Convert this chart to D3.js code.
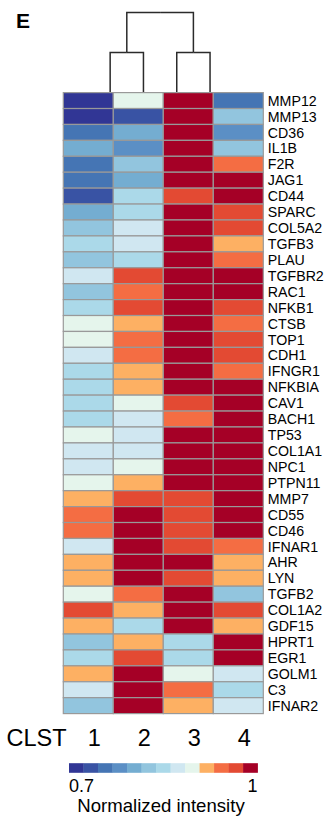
<!DOCTYPE html>
<html>
<head>
<meta charset="utf-8">
<script src="https://cdn.jsdelivr.net/npm/d3@7"></script>
<style>
  html, body { margin: 0; padding: 0; background: #fff; }
  svg { display: block; font-family: "Liberation Sans", Arial, Helvetica, sans-serif; }
</style>
</head>
<body>
<svg id="chart" width="331" height="819"></svg>
<script>
// Genes (rows, top to bottom) and clusters (columns)
const genes = ["MMP12","MMP13","CD36","IL1B","F2R","JAG1","CD44","SPARC","COL5A2","TGFB3",
  "PLAU","TGFBR2","RAC1","NFKB1","CTSB","TOP1","CDH1","IFNGR1","NFKBIA","CAV1",
  "BACH1","TP53","COL1A1","NPC1","PTPN11","MMP7","CD55","CD46","IFNAR1","AHR",
  "LYN","TGFB2","COL1A2","GDF15","HPRT1","EGR1","GOLM1","C3","IFNAR2"];
const clusters = ["1","2","3","4"];

// Normalized intensity per cluster, one value per gene
const clst1 = [0.71,0.71,0.76,0.80,0.76,0.76,0.74,0.80,0.83,0.85,0.83,0.87,0.83,0.85,0.90,0.90,0.87,0.85,0.85,0.85,
  0.85,0.90,0.87,0.87,0.90,0.92,0.94,0.94,0.87,0.92,0.92,0.90,0.97,0.92,0.83,0.85,0.92,0.87,0.83];
const clst2 = [0.90,0.74,0.80,0.78,0.83,0.80,0.85,0.85,0.87,0.87,0.85,0.97,0.94,0.97,0.92,0.94,0.94,0.92,0.92,0.90,
  0.87,0.87,0.87,0.90,0.92,0.97,0.99,0.99,0.99,0.99,0.99,0.94,0.92,0.85,0.92,0.97,0.99,0.99,0.99];
const clst3 = [0.99,0.99,0.99,0.99,0.99,0.99,0.97,0.99,0.99,0.99,0.99,0.99,0.99,0.99,0.99,0.99,0.99,0.99,0.99,0.97,
  0.94,0.99,0.99,0.99,0.99,0.97,0.97,0.97,0.97,0.99,0.97,0.99,0.99,0.99,0.85,0.85,0.90,0.94,0.92];
const clst4 = [0.76,0.83,0.78,0.83,0.94,0.99,0.99,0.97,0.97,0.92,0.94,0.99,0.99,0.97,0.94,0.97,0.97,0.94,0.99,0.99,
  0.99,0.99,0.99,0.99,0.99,0.99,0.99,0.99,0.94,0.92,0.92,0.83,0.97,0.92,0.99,0.99,0.87,0.85,0.87];
const seriesValues = [clst1, clst2, clst3, clst4];

// Column dendrogram: (1,2) and (3,4) joined at the root
const dendro = { name: "root", children: [
  { name: "a", children: [{ name: "1" }, { name: "2" }] },
  { name: "b", children: [{ name: "3" }, { name: "4" }] }
]};

// Colour key
const palette = ["#313695","#3953a4","#4575b4","#5b8fc5","#74add1","#92c5de","#abd9e9",
  "#d0e7f1","#e5f5ec","#fdb063","#f46d43","#e34a33","#a50026"];
const keyDomain = [0.7, 1];
const keyTicks = [0.7, 1];
const keyTitle = "Normalized intensity";
const rowTitle = "CLST";
const panelLabel = "E";

const svg = d3.select("#chart");

const heat = { left: 63.3, right: 263.3, top: 92.6, bottom: 713.6 };

const x = d3.scaleBand().domain(clusters).range([heat.left, heat.right]).padding(0);
const y = d3.scaleBand().domain(genes).range([heat.top, heat.bottom]).padding(0);
const color = d3.scaleQuantize().domain(keyDomain).range(palette);

// Panel letter
svg.append("text")
  .attr("x", 16).attr("y", 28.3)
  .attr("font-size", 21).attr("font-weight", "bold")
  .attr("fill", "#000")
  .text(panelLabel);

// Dendrogram
const root = d3.hierarchy(dendro);
d3.cluster().size([133.2, 80]).separation(() => 1)(root);
const dg = svg.append("g").attr("transform", "translate(93.5,12.5)");
dg.selectAll("path")
  .data(root.links())
  .join("path")
  .attr("fill", "none")
  .attr("stroke", "#2b2b2b")
  .attr("stroke-width", 1.5)
  .attr("d", d => `M${d.source.x},${d.source.y}H${d.target.x}V${d.target.y}`);

// Heatmap cells
const cells = [];
genes.forEach((g, i) => clusters.forEach((c, j) => cells.push({ gene: g, clst: c, value: seriesValues[j][i] })));

svg.append("g")
  .selectAll("rect")
  .data(cells)
  .join("rect")
  .attr("x", d => x(d.clst))
  .attr("y", d => y(d.gene))
  .attr("width", x.bandwidth())
  .attr("height", y.bandwidth())
  .attr("fill", d => color(d.value))
  .attr("stroke", "#999")
  .attr("stroke-width", 1.2);

// Gene labels
svg.append("g")
  .selectAll("text")
  .data(genes)
  .join("text")
  .attr("x", heat.right + 4.5)
  .attr("y", d => y(d) + y.bandwidth() / 2)
  .attr("dy", "0.36em")
  .attr("font-size", 14.2)
  .attr("fill", "#000")
  .text(d => d);

// Cluster row
svg.append("text")
  .attr("x", 6.5).attr("y", 745.7)
  .attr("font-size", 23.5)
  .attr("fill", "#000")
  .text(rowTitle);

svg.append("g")
  .selectAll("text")
  .data(clusters)
  .join("text")
  .attr("x", d => x(d) + x.bandwidth() / 2 + 6)
  .attr("y", 745.7)
  .attr("text-anchor", "middle")
  .attr("font-size", 23.5)
  .attr("fill", "#000")
  .text(d => d);

// Colour key
const keyX = d3.scaleBand().domain(d3.range(palette.length)).range([69, 257.6]).padding(0);
const keyLin = d3.scaleLinear().domain(keyDomain).range([69, 257.6]);
svg.append("g")
  .selectAll("rect")
  .data(palette)
  .join("rect")
  .attr("x", (d, i) => keyX(i))
  .attr("y", 763.2)
  .attr("width", keyX.bandwidth() + 0.3)
  .attr("height", 9.6)
  .attr("fill", d => d);

svg.append("g")
  .selectAll("text")
  .data(keyTicks)
  .join("text")
  .attr("x", d => keyLin(d))
  .attr("y", 791.5)
  .attr("text-anchor", (d, i) => i === 0 ? "start" : "end")
  .attr("font-size", 18)
  .attr("fill", "#000")
  .text(d => d3.format("")(d));

svg.append("text")
  .attr("x", 161).attr("y", 811.5)
  .attr("text-anchor", "middle")
  .attr("font-size", 18.6)
  .attr("fill", "#000")
  .text(keyTitle);
</script>
</body>
</html>
